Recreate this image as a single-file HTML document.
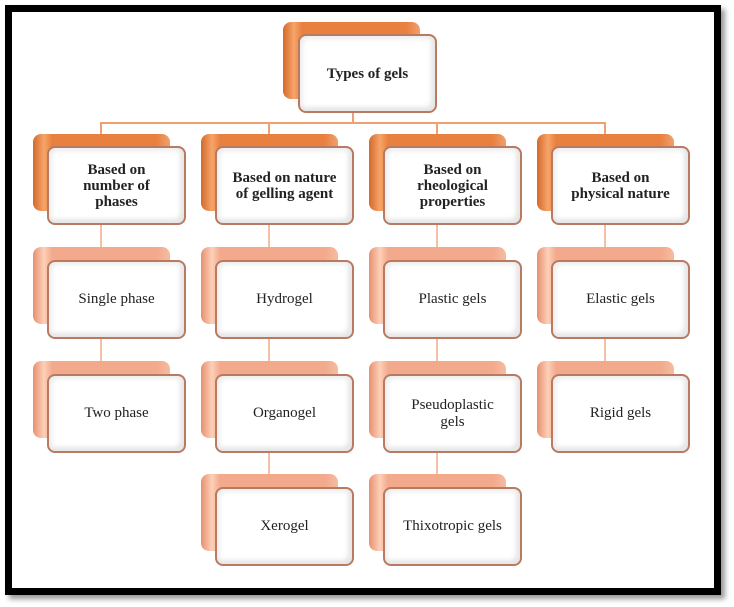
<!DOCTYPE html>
<html><head><style>
body{margin:0;width:734px;height:607px;background:#fff;position:relative;overflow:hidden;font-family:"Liberation Serif",serif;}
.frame{position:absolute;left:5px;top:5px;width:702px;height:576px;border:7px solid #000;box-shadow:4px 4px 5px #999;}
.b{position:absolute;width:137px;height:77px;border-radius:8px;}
.d{background:linear-gradient(90deg,#d4692c 0,#f6a46a 8%,#e8803f 14%,#e8803f 90%,#f0a070 100%);}
.l{background:linear-gradient(90deg,#e88f70 0,#fcd0b8 8%,#f2a98c 14%,#f2a98c 90%,#f5bba0 100%);}
.f{position:absolute;width:135px;height:75px;border-radius:8px;background:#fff;border:2px solid #b87a60;display:flex;align-items:center;justify-content:center;text-align:center;font-size:15px;color:#222;box-shadow:inset -4px -4px 5px #e6e6e6,inset 3px 3px 4px #eee;}
.f.h{font-weight:bold;line-height:16px;font-size:15px;}
.ln{position:absolute;background:#f2a070;}
</style></head><body>
<div class="frame"></div>
<div class="ln" style="left:100px;top:122px;width:506px;height:2px"></div>
<div class="ln" style="left:352px;top:110px;width:2px;height:13px"></div>
<div class="ln" style="left:100px;top:122px;width:2px;height:300px;background:#f7c0a5"></div>
<div class="ln" style="left:268px;top:122px;width:2px;height:420px;background:#f7c0a5"></div>
<div class="ln" style="left:436px;top:122px;width:2px;height:420px;background:#f7c0a5"></div>
<div class="ln" style="left:604px;top:122px;width:2px;height:300px;background:#f7c0a5"></div>
<div class="ln" style="left:100px;top:122px;width:2px;height:12px"></div>
<div class="ln" style="left:268px;top:122px;width:2px;height:12px"></div>
<div class="ln" style="left:436px;top:122px;width:2px;height:12px"></div>
<div class="ln" style="left:604px;top:122px;width:2px;height:12px"></div>

<div class="b d" style="left:283px;top:22px"></div>
<div class="f h" style="left:298px;top:34px">Types of gels</div>

<div class="b d" style="left:33px;top:134px"></div><div class="f h" style="left:47px;top:146px">Based on<br>number of<br>phases</div>
<div class="b d" style="left:201px;top:134px"></div><div class="f h" style="left:215px;top:146px">Based on nature<br>of gelling agent</div>
<div class="b d" style="left:369px;top:134px"></div><div class="f h" style="left:383px;top:146px">Based on<br>rheological<br>properties</div>
<div class="b d" style="left:537px;top:134px"></div><div class="f h" style="left:551px;top:146px">Based on<br>physical nature</div>

<div class="b l" style="left:33px;top:247px"></div><div class="f" style="left:47px;top:260px">Single phase</div>
<div class="b l" style="left:201px;top:247px"></div><div class="f" style="left:215px;top:260px">Hydrogel</div>
<div class="b l" style="left:369px;top:247px"></div><div class="f" style="left:383px;top:260px">Plastic gels</div>
<div class="b l" style="left:537px;top:247px"></div><div class="f" style="left:551px;top:260px">Elastic gels</div>

<div class="b l" style="left:33px;top:361px"></div><div class="f" style="left:47px;top:374px">Two phase</div>
<div class="b l" style="left:201px;top:361px"></div><div class="f" style="left:215px;top:374px">Organogel</div>
<div class="b l" style="left:369px;top:361px"></div><div class="f" style="left:383px;top:374px">Pseudoplastic<br>gels</div>
<div class="b l" style="left:537px;top:361px"></div><div class="f" style="left:551px;top:374px">Rigid gels</div>

<div class="b l" style="left:201px;top:474px"></div><div class="f" style="left:215px;top:487px">Xerogel</div>
<div class="b l" style="left:369px;top:474px"></div><div class="f" style="left:383px;top:487px">Thixotropic gels</div>
</body></html>
